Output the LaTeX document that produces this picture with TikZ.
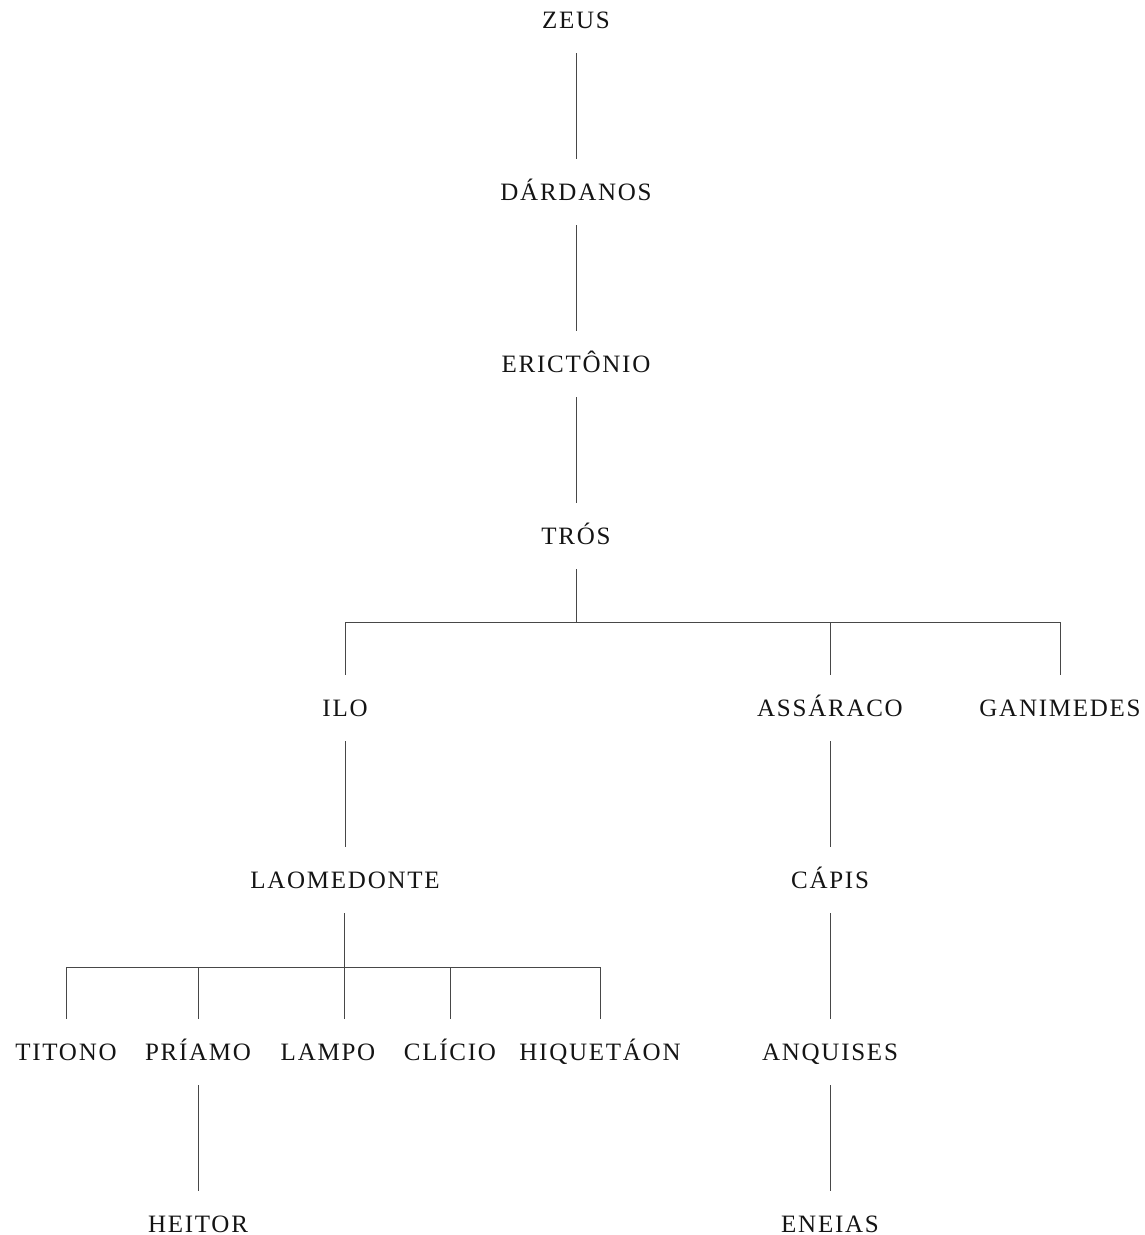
\documentclass[tikz,border=0pt]{standalone}
\usepackage{fontspec}
\setmainfont[LetterSpace=7]{Liberation Serif}
\begin{document}
\begin{tikzpicture}[x=1pt,y=1pt,
  person/.style={anchor=base,font=\fontsize{25}{29}\selectfont,text=black!92,
    text height=16pt,text depth=0pt,inner xsep=0pt,inner ysep=25pt},
  link/.style={draw=black!72,line width=1pt}]
\useasboundingbox (0,0) rectangle (1144,-1235);
\node[person] (zeus) at (576,-28) {ZEUS};
\node[person] (dar) at (576,-200) {DÁRDANOS};
\node[person] (eri) at (576,-372) {ERICTÔNIO};
\node[person] (tros) at (576,-544) {TRÓS};
\node[person] (ilo) at (345,-716) {ILO};
\node[person] (ass) at (830,-716) {ASSÁRACO};
\node[person] (gan) at (1060,-716) {GANIMEDES};
\node[person] (lao) at (345,-888) {LAOMEDONTE};
\node[person] (cap) at (830,-888) {CÁPIS};
\node[person] (tit) at (66,-1060) {TITONO};
\node[person] (pri) at (198,-1060) {PRÍAMO};
\node[person] (lam) at (328,-1060) {LAMPO};
\node[person] (cli) at (450,-1060) {CLÍCIO};
\node[person] (hiq) at (600,-1060) {HIQUETÁON};
\node[person] (anq) at (830,-1060) {ANQUISES};
\node[person] (hei) at (198,-1232) {HEITOR};
\node[person] (ene) at (830,-1232) {ENEIAS};
\coordinate (bar1) at (576,-622);
\coordinate (bar2) at (344,-967);
\draw[link] (zeus.south) -- (dar.north);
\draw[link] (dar.south) -- (eri.north);
\draw[link] (eri.south) -- (tros.north);
\draw[link] (tros.south) -- (bar1);
\draw[link] (ilo.north) |- (bar1) -| (gan.north);
\draw[link] (ass.north) -- (ass.north |- bar1);
\draw[link] (ilo.south) -- (lao.north);
\draw[link] (ass.south) -- (cap.north);
\draw[link] (cap.south) -- (anq.north);
\draw[link] (anq.south) -- (ene.north);
\draw[link] (pri.south) -- (hei.north);
\draw[link] (344,-913) coordinate (laos) -- (laos |- lam.north);
\draw[link] (tit.north) |- (bar2) -| (hiq.north);
\draw[link] (pri.north) -- (pri.north |- bar2);
\draw[link] (cli.north) -- (cli.north |- bar2);
\end{tikzpicture}
\end{document}
